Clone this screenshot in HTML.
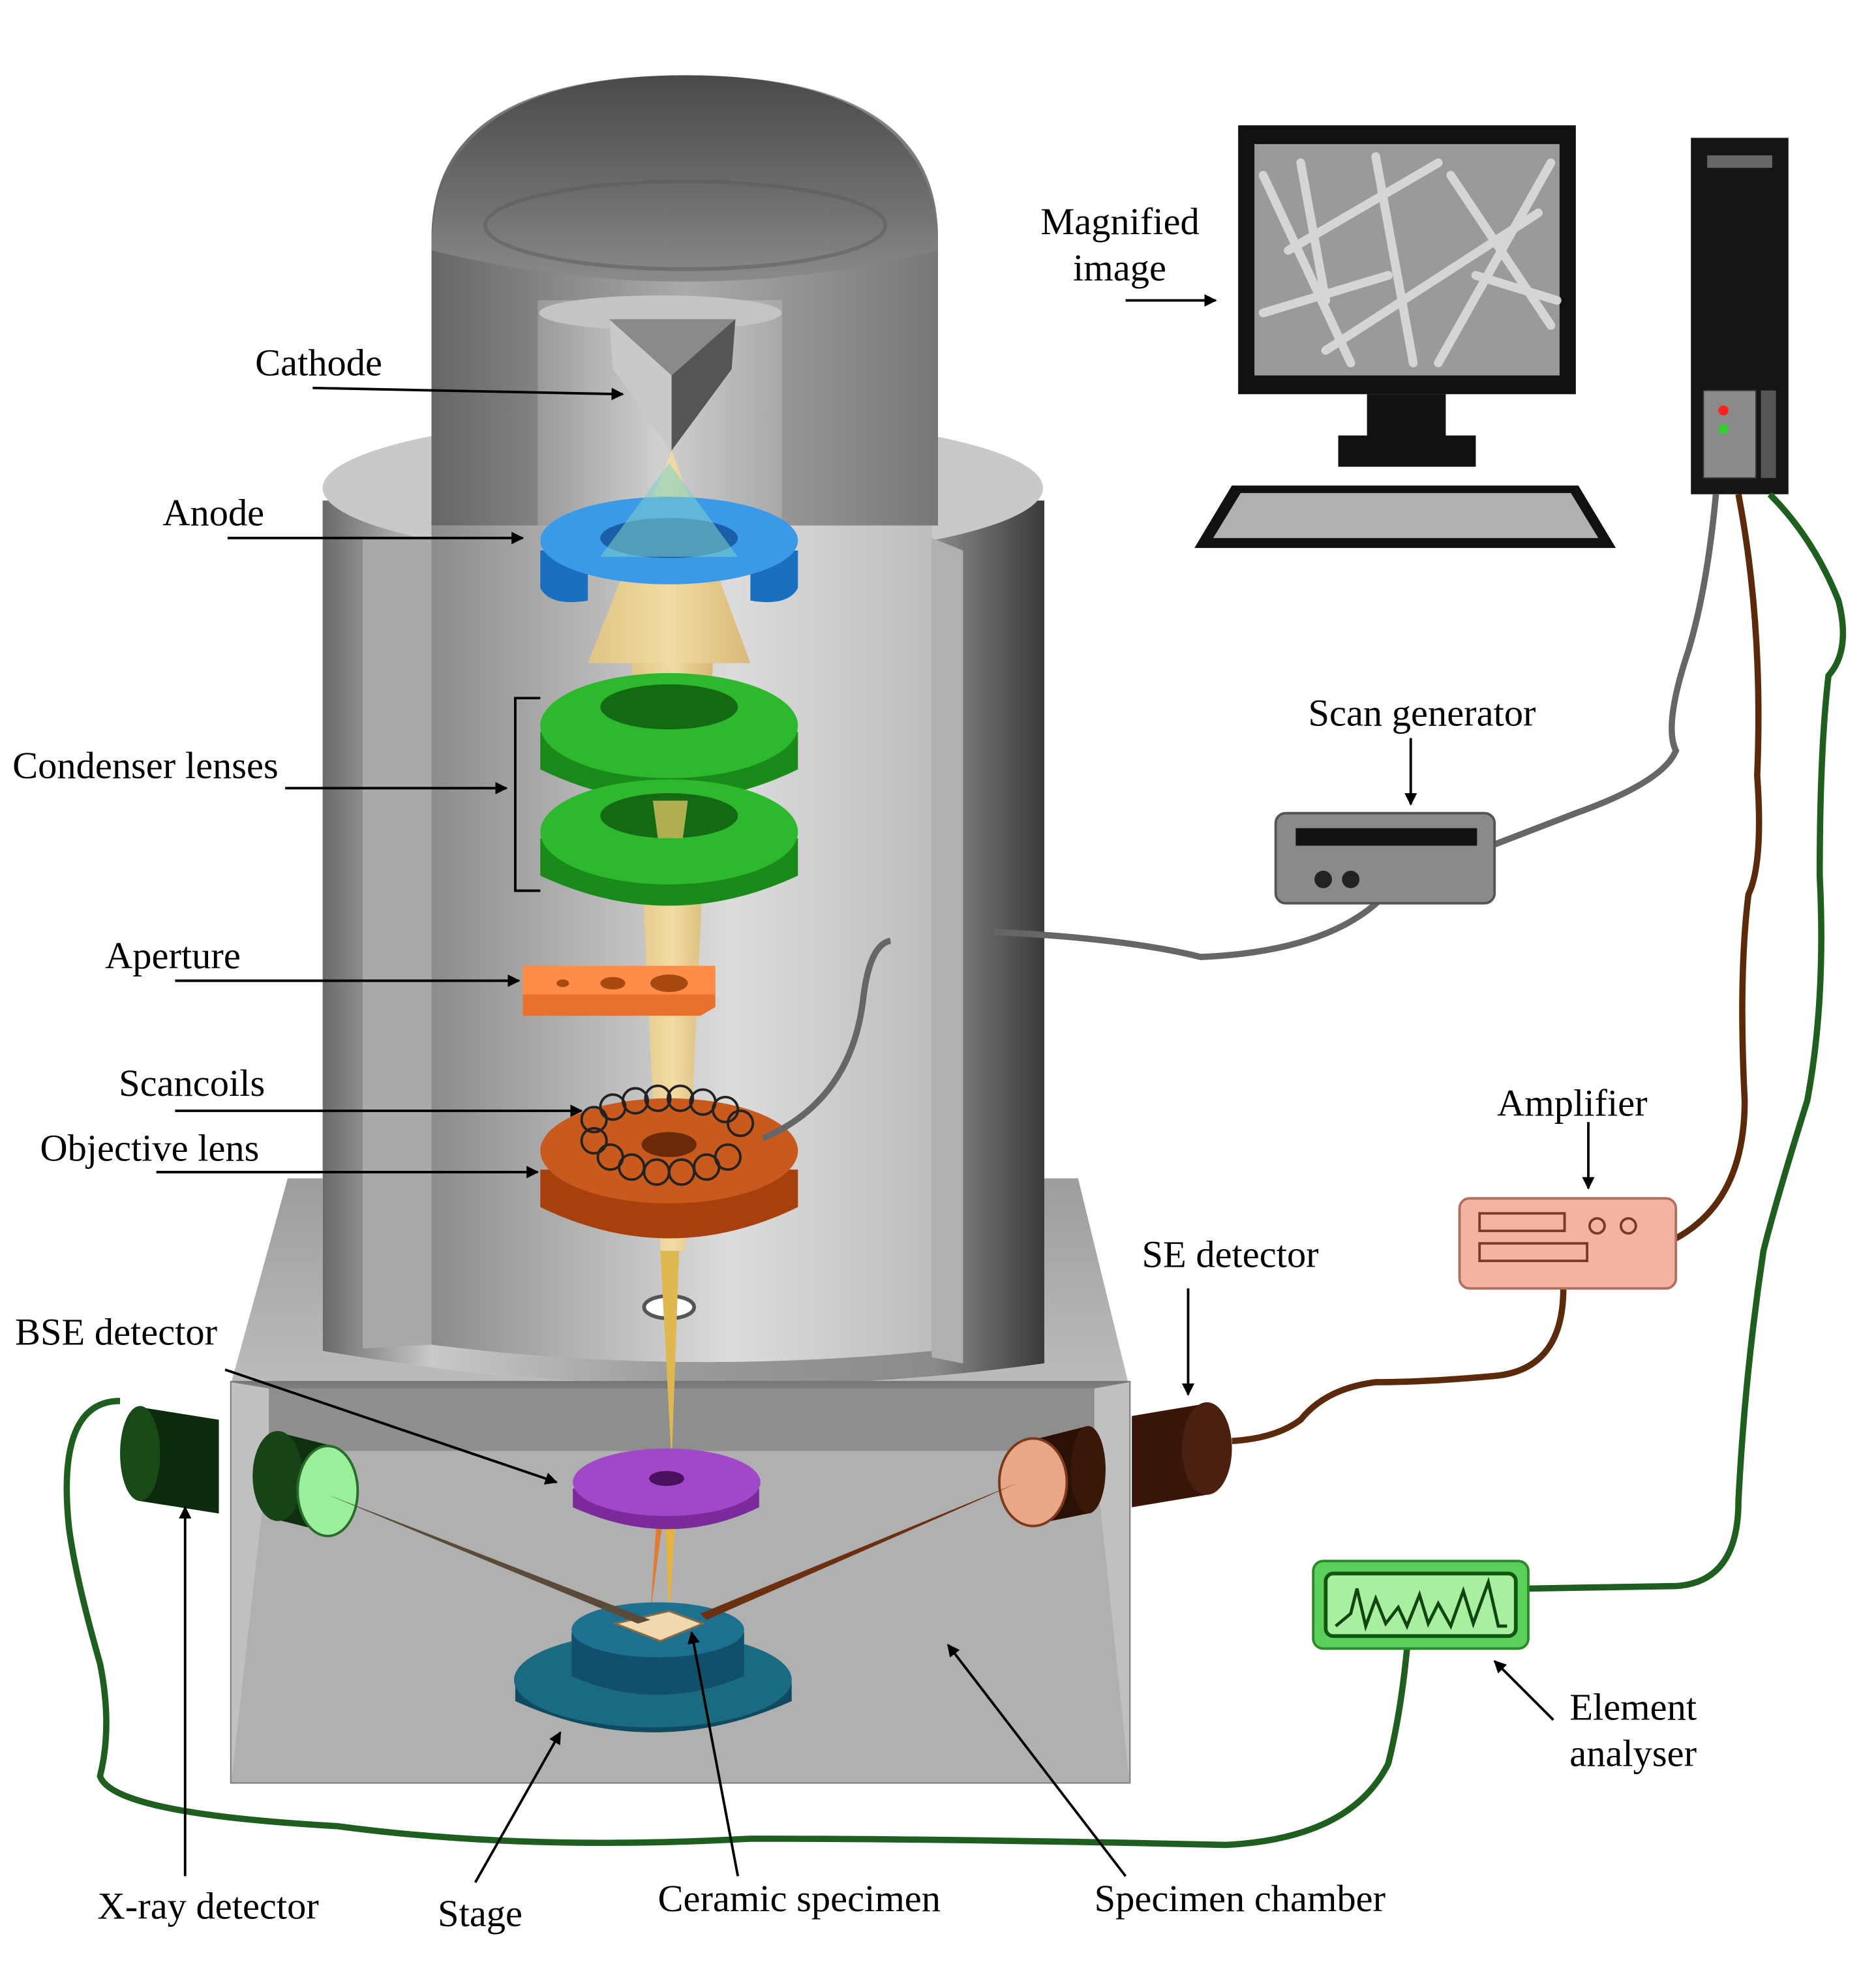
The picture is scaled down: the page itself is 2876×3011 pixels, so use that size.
<!DOCTYPE html>
<html><head><meta charset="utf-8"><style>
html,body{margin:0;padding:0;background:#fff;}
svg{display:block;}
text{font-family:"Liberation Serif",serif;font-size:30.5px;fill:#000;}
</style></head><body>
<svg width="2876" height="3011" viewBox="0 0 1500 1570" xmlns="http://www.w3.org/2000/svg">
<defs>
<linearGradient id="col" x1="0" x2="1"><stop offset="0" stop-color="#6a6a6a"/><stop offset="0.15" stop-color="#c8c8c8"/><stop offset="0.5" stop-color="#9a9a9a"/><stop offset="0.85" stop-color="#8a8a8a"/><stop offset="1" stop-color="#3a3a3a"/></linearGradient>
<linearGradient id="inner" x1="0" x2="1"><stop offset="0" stop-color="#8c8c8c"/><stop offset="0.6" stop-color="#dcdcdc"/><stop offset="1" stop-color="#bdbdbd"/></linearGradient>
<linearGradient id="dome" x1="0" y1="0" x2="0" y2="1"><stop offset="0" stop-color="#4a4a4a"/><stop offset="0.6" stop-color="#6e6e6e"/><stop offset="1" stop-color="#8a8a8a"/></linearGradient>
<linearGradient id="dome2" x1="0" x2="1"><stop offset="0" stop-color="#666"/><stop offset="0.5" stop-color="#aaa"/><stop offset="1" stop-color="#777"/></linearGradient>
<linearGradient id="win" x1="0" x2="1"><stop offset="0" stop-color="#9a9a9a"/><stop offset="0.5" stop-color="#d0d0d0"/><stop offset="1" stop-color="#a8a8a8"/></linearGradient>
<linearGradient id="beam" x1="0" x2="1"><stop offset="0" stop-color="#e9c777" stop-opacity="0.8"/><stop offset="0.5" stop-color="#f5dea0" stop-opacity="0.9"/><stop offset="1" stop-color="#d9b060" stop-opacity="0.8"/></linearGradient>
<linearGradient id="boxtop" x1="0" y1="0" x2="0" y2="1"><stop offset="0" stop-color="#9d9d9d"/><stop offset="1" stop-color="#bcbcbc"/></linearGradient>
<linearGradient id="wall" x1="0" y1="0" x2="0" y2="1"><stop offset="0" stop-color="#7c7c7c"/><stop offset="1" stop-color="#a8a8a8"/></linearGradient>
<marker id="ar" markerWidth="10" markerHeight="10" refX="9" refY="5" orient="auto" markerUnits="userSpaceOnUse" viewBox="0 0 10 10"><path d="M0,0 L10,5 L0,10 z" fill="#000"/></marker>
</defs>

<path d="M258,400 L258,1080 Q545,1130 835,1090 L835,400 Z" fill="url(#col)"/>
<ellipse cx="546" cy="390" rx="288" ry="58" fill="#c9c9c9"/>
<path d="M345,420 L345,1075 Q540,1100 745,1080 L745,420 Z" fill="url(#inner)"/>
<path d="M290,430 L345,430 L345,1075 L290,1078 Z" fill="#a9a9a9"/>
<path d="M745,430 L770,440 L770,1090 L745,1085 Z" fill="#b0b0b0"/>
<path d="M345,190 Q345,60 548,60 Q750,60 750,190 L750,420 L625,420 L625,240 L430,240 L430,420 L345,420 Z" fill="url(#dome2)"/>
<rect x="430" y="240" width="195" height="180" fill="url(#win)"/>
<ellipse cx="528" cy="250" rx="97" ry="14" fill="#c4c4c4"/>
<path d="M345,200 Q345,60 548,60 Q750,60 750,200 Q548,250 345,200 Z" fill="url(#dome)"/>
<ellipse cx="548" cy="180" rx="160" ry="35" fill="none" stroke="#5a5a5a" stroke-width="3" opacity="0.5"/>
<path d="M230,942 L258,942 L258,1080 Q545,1130 835,1090 L835,942 L862,942 L902,1105 L185,1105 Z" fill="url(#boxtop)"/>
<rect x="185" y="1105" width="718" height="320" fill="url(#wall)" stroke="#777" stroke-width="2"/>
<path d="M215,1160 L875,1160 L903,1425 L185,1425 Z" fill="#b0b0b0"/>
<path d="M215,1110 L875,1110 L875,1160 L215,1160 Z" fill="#8e8e8e"/>
<path d="M185,1105 L215,1110 L215,1160 L185,1425 Z" fill="#c0c0c0"/>
<path d="M903,1105 L875,1110 L875,1160 L903,1425 Z" fill="#c0c0c0"/>
<ellipse cx="535" cy="1045" rx="20" ry="9" fill="#fff" stroke="#555" stroke-width="3"/>

<path d="M537,360 L470,530 L600,530 Z" fill="url(#beam)"/>
<path d="M505,530 L570,530 L548,1000 L528,1000 Z" fill="url(#beam)"/>
<path d="M528,1000 L543,1000 L537,1170 Z" fill="#e0b850"/>
<path d="M532,1215 L540,1215 L535,1295 Z" fill="#e7b340"/>
<path d="M525,1215 L530,1215 L520,1290 Z" fill="#e07a30"/>

<path d="M487,255 L588,255 L585,295 L537,360 L490,295 Z" fill="#8a8a8a"/>
<path d="M487,255 L537,300 L537,360 L490,295 Z" fill="#c9c9c9"/>
<path d="M588,255 L537,300 L537,360 L585,295 Z" fill="#555"/>

<path d="M432,440 L432,470 Q440,485 470,480 L470,455 Q535,470 600,455 L600,480 Q630,485 638,470 L638,440 Z" fill="#1a6fc0"/>
<ellipse cx="535" cy="432" rx="103" ry="35" fill="#3b9ae8"/>
<ellipse cx="535" cy="430" rx="55" ry="16" fill="#1a5fa8"/>
<path d="M480,445 L535,370 L590,445 Z" fill="#7fd0c8" opacity="0.55"/>

<path d="M432,585 L432,615 Q535,665 638,615 L638,585 Z" fill="#1a8a1a"/>
<ellipse cx="535" cy="580" rx="103" ry="42" fill="#2db82d"/>
<ellipse cx="535" cy="565" rx="55" ry="18" fill="#136a13"/>
<path d="M432,670 L432,700 Q535,748 638,700 L638,670 Z" fill="#1a8a1a"/>
<ellipse cx="535" cy="665" rx="103" ry="42" fill="#2db82d"/>
<ellipse cx="535" cy="652" rx="55" ry="18" fill="#136a13"/>
<path d="M522,640 L550,640 L546,670 L526,670 Z" fill="#d8c060" opacity="0.8"/>
<path d="M432,558 L412,558 L412,712 L432,712" fill="none" stroke="#000" stroke-width="2"/>

<path d="M418,775 L572,775 L572,805 L560,812 L418,812 Z" fill="#e8702a"/>
<path d="M418,772 L572,772 L572,795 L418,795 Z" fill="#ff8c48"/>
<ellipse cx="450" cy="786" rx="5" ry="3" fill="#a84a10"/>
<ellipse cx="490" cy="786" rx="10" ry="5" fill="#a84a10"/>
<ellipse cx="535" cy="786" rx="15" ry="7" fill="#a84a10"/>

<path d="M432,935 L432,965 Q535,1015 638,965 L638,935 Z" fill="#a8400e"/>
<ellipse cx="535" cy="920" rx="103" ry="42" fill="#c85a1e"/>
<ellipse cx="535" cy="915" rx="22" ry="10" fill="#6a2a08"/>
<g fill="none" stroke="#222" stroke-width="2">
<circle cx="475" cy="895" r="10"/><circle cx="490" cy="885" r="10"/><circle cx="508" cy="880" r="10"/><circle cx="526" cy="878" r="10"/><circle cx="544" cy="878" r="10"/><circle cx="562" cy="881" r="10"/><circle cx="580" cy="887" r="10"/><circle cx="592" cy="898" r="10"/><circle cx="582" cy="925" r="10"/><circle cx="565" cy="933" r="10"/><circle cx="545" cy="937" r="10"/><circle cx="525" cy="937" r="10"/><circle cx="505" cy="933" r="10"/><circle cx="488" cy="925" r="10"/><circle cx="475" cy="912" r="10"/>
</g>
<path d="M610,910 Q680,880 690,800 Q695,755 712,752" fill="none" stroke="#666" stroke-width="5"/>

<path d="M458,1190 L458,1205 Q535,1240 607,1205 L607,1190 Z" fill="#7a2a9a"/>
<ellipse cx="533" cy="1185" rx="75" ry="27" fill="#a048c8"/>
<ellipse cx="533" cy="1182" rx="14" ry="6" fill="#4a1060"/>

<path d="M412,1345 L412,1360 Q522,1410 633,1360 L633,1345 Z" fill="#0e4a60"/>
<ellipse cx="522" cy="1343" rx="111" ry="38" fill="#1a6a82"/>
<path d="M457,1305 L457,1340 Q525,1370 595,1340 L595,1305 Z" fill="#10506a"/>
<ellipse cx="526" cy="1303" rx="69" ry="22" fill="#1e7090"/>
<path d="M492,1298 L535,1288 L562,1298 L528,1312 Z" fill="#f0d8b0" stroke="#8a6a40" stroke-width="1.5"/>

<path d="M112,1125 L175,1135 L175,1210 L112,1200 Z" fill="#0c2a0c"/>
<ellipse cx="112" cy="1162" rx="16" ry="38" fill="#184a18"/>
<path d="M222,1145 L262,1155 L262,1225 L222,1215 Z" fill="#0e300e"/>
<ellipse cx="222" cy="1180" rx="20" ry="36" fill="#164416"/>
<ellipse cx="262" cy="1192" rx="24" ry="36" fill="#9af09a" stroke="#2a6a2a" stroke-width="2"/>
<path d="M262,1195 L520,1295 L510,1298 Z" fill="#5a4a3a"/>

<path d="M905,1132 L965,1122 L965,1195 L905,1205 Z" fill="#3a1608"/>
<ellipse cx="965" cy="1158" rx="20" ry="37" fill="#4a2010"/>
<path d="M830,1150 L870,1140 L870,1210 L830,1218 Z" fill="#2a1005"/>
<ellipse cx="870" cy="1175" rx="14" ry="35" fill="#3a1808"/>
<ellipse cx="826" cy="1185" rx="27" ry="35" fill="#e8a888" stroke="#7a3a1a" stroke-width="2"/>
<path d="M815,1185 L560,1290 L565,1295 Z" fill="#6a3010"/>

<rect x="990" y="100" width="270" height="215" fill="#111"/>
<rect x="1003" y="115" width="244" height="185" fill="#9a9a9a"/>
<g stroke="#e0e0e0" stroke-width="7" stroke-linecap="round" opacity="0.85">
<line x1="1010" y1="140" x2="1080" y2="290"/><line x1="1030" y1="200" x2="1150" y2="130"/><line x1="1060" y1="280" x2="1230" y2="170"/><line x1="1100" y1="125" x2="1130" y2="290"/><line x1="1150" y1="290" x2="1240" y2="130"/><line x1="1010" y1="250" x2="1110" y2="220"/><line x1="1160" y1="140" x2="1240" y2="260"/><line x1="1040" y1="130" x2="1060" y2="240"/><line x1="1180" y1="220" x2="1245" y2="240"/>
</g>
<rect x="1093" y="315" width="63" height="35" fill="#111"/>
<rect x="1070" y="348" width="110" height="25" fill="#111"/>
<path d="M985,388 L1262,388 L1292,438 L955,438 Z" fill="#111"/>
<path d="M992,394 L1256,394 L1278,430 L970,430 Z" fill="#b0b0b0"/>

<rect x="1352" y="110" width="78" height="285" fill="#151515"/>
<rect x="1365" y="124" width="52" height="10" fill="#666"/>
<rect x="1362" y="312" width="42" height="70" fill="#8a8a8a" stroke="#333"/>
<rect x="1408" y="312" width="12" height="70" fill="#555"/>
<circle cx="1378" cy="328" r="4" fill="#ff2020"/>
<circle cx="1378" cy="343" r="4" fill="#30d030"/>

<path d="M1372,395 Q1365,470 1350,520 Q1330,580 1340,600 Q1330,625 1260,650 L1195,675" fill="none" stroke="#666" stroke-width="5"/>
<path d="M795,745 Q900,750 960,765 Q1080,760 1120,700 Q1130,670 1120,655" fill="none" stroke="#666" stroke-width="5"/>
<path d="M1390,395 Q1410,500 1405,620 Q1410,690 1398,715 Q1390,780 1395,880 Q1395,960 1340,990" fill="none" stroke="#5a2a0a" stroke-width="5"/>
<path d="M1250,1030 Q1250,1095 1195,1100 Q1140,1105 1100,1105 Q1060,1110 1040,1135 Q1020,1150 985,1152" fill="none" stroke="#5a2a0a" stroke-width="5"/>
<path d="M1415,395 Q1450,430 1470,480 Q1480,520 1462,540 Q1455,600 1455,700 Q1460,800 1445,880 Q1420,960 1410,1000 Q1395,1100 1390,1200 Q1390,1265 1340,1268 L1222,1270" fill="none" stroke="#1e5e1e" stroke-width="5"/>
<path d="M1125,1318 Q1120,1370 1110,1410 Q1080,1470 980,1475 Q760,1470 600,1470 Q420,1480 270,1460 Q90,1450 80,1420 Q90,1380 80,1330 Q60,1260 55,1220 Q45,1120 96,1120" fill="none" stroke="#1e5e1e" stroke-width="5"/>

<rect x="1020" y="650" width="175" height="72" rx="8" fill="#8a8a8a" stroke="#555" stroke-width="2"/>
<rect x="1036" y="662" width="145" height="14" fill="#111"/>
<circle cx="1058" cy="703" r="7" fill="#222"/><circle cx="1080" cy="703" r="7" fill="#222"/>
<rect x="1167" y="958" width="173" height="72" rx="8" fill="#f2b4a0" stroke="#b07060" stroke-width="2"/>
<rect x="1183" y="970" width="68" height="14" fill="none" stroke="#7a3a2a" stroke-width="2"/>
<rect x="1183" y="994" width="86" height="14" fill="none" stroke="#7a3a2a" stroke-width="2"/>
<circle cx="1277" cy="980" r="6" fill="none" stroke="#7a3a2a" stroke-width="2"/><circle cx="1302" cy="980" r="6" fill="none" stroke="#7a3a2a" stroke-width="2"/>
<rect x="1050" y="1248" width="172" height="70" rx="8" fill="#5ad05a" stroke="#2a8a2a" stroke-width="2"/>
<rect x="1060" y="1258" width="152" height="50" rx="6" fill="#a8f0a0" stroke="#115511" stroke-width="3"/>
<path d="M1068,1300 L1080,1290 L1085,1270 L1092,1300 L1100,1278 L1108,1298 L1118,1285 L1125,1300 L1135,1275 L1142,1298 L1150,1282 L1160,1300 L1170,1272 L1178,1298 L1190,1265 L1198,1300 L1205,1300" fill="none" stroke="#114411" stroke-width="2.5"/>

<g stroke="#000" stroke-width="2" fill="none" marker-end="url(#ar)">
<line x1="250" y1="310" x2="498" y2="315"/>
<line x1="182" y1="430" x2="418" y2="430"/>
<line x1="228" y1="630" x2="405" y2="630"/>
<line x1="140" y1="784" x2="415" y2="784"/>
<line x1="140" y1="888" x2="465" y2="888"/>
<line x1="125" y1="937" x2="430" y2="937"/>
<line x1="180" y1="1095" x2="445" y2="1185"/>
<line x1="900" y1="240" x2="972" y2="240"/>
<line x1="1128" y1="590" x2="1128" y2="643"/>
<line x1="1270" y1="897" x2="1270" y2="950"/>
<line x1="950" y1="1030" x2="950" y2="1115"/>
<line x1="1242" y1="1375" x2="1195" y2="1328"/>
<line x1="148" y1="1500" x2="148" y2="1205"/>
<line x1="380" y1="1505" x2="448" y2="1385"/>
<line x1="590" y1="1500" x2="553" y2="1305"/>
<line x1="900" y1="1500" x2="758" y2="1315"/>
</g>
<text x="204" y="300">Cathode</text>
<text x="130" y="420">Anode</text>
<text x="10" y="622">Condenser lenses</text>
<text x="84" y="774">Aperture</text>
<text x="95" y="876">Scancoils</text>
<text x="32" y="928">Objective lens</text>
<text x="12" y="1075">BSE detector</text>
<text x="832" y="187">Magnified</text>
<text x="858" y="224">image</text>
<text x="1046" y="580">Scan generator</text>
<text x="1197" y="892">Amplifier</text>
<text x="913" y="1013">SE detector</text>
<text x="1255" y="1375">Element</text>
<text x="1255" y="1412">analyser</text>
<text x="78" y="1534">X-ray detector</text>
<text x="350" y="1540">Stage</text>
<text x="526" y="1528">Ceramic specimen</text>
<text x="875" y="1528">Specimen chamber</text>
</svg>
</body></html>
